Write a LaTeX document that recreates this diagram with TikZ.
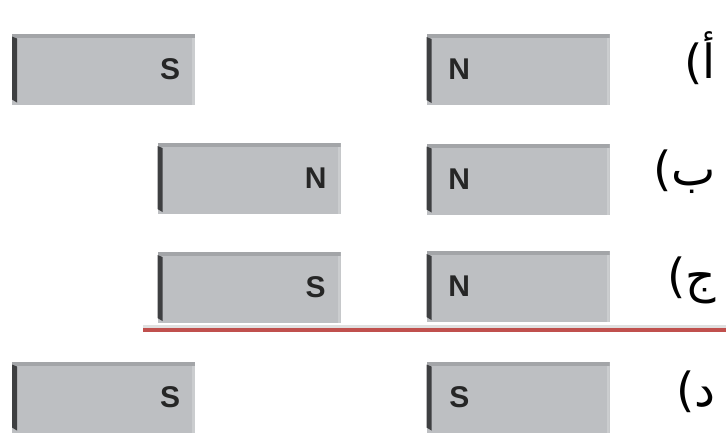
\documentclass[tikz,border=0pt]{standalone}
\usepackage{fontspec}
\setmainfont{Liberation Sans}
\newfontfamily\arabicfont[Script=Arabic]{DejaVu Sans}
\TeXXeTstate=1
\definecolor{magface}{HTML}{BDBFC2}
\definecolor{magtop}{HTML}{A3A5A8}
\definecolor{magleft}{HTML}{3E3F41}
\definecolor{magright}{HTML}{CBCDCF}
\definecolor{redline}{HTML}{C0504D}
\definecolor{pole}{HTML}{262626}
\tikzset{
  magnet/.style={rectangle, minimum width=183pt, minimum height=71pt, inner sep=0pt,
    fill=magface,
    path picture={
      \fill[magtop] (path picture bounding box.north west) rectangle ([yshift=-4pt]path picture bounding box.north east);
      \fill[magright] ([xshift=-3pt,yshift=-4pt]path picture bounding box.north east) rectangle (path picture bounding box.south east);
      \fill[magleft] ([yshift=-3pt]path picture bounding box.north west) -- ([xshift=5pt,yshift=-5pt]path picture bounding box.north west) -- ([xshift=5pt,yshift=2pt]path picture bounding box.south west) -- ([yshift=5pt]path picture bounding box.south west) -- cycle;
    }},
  polelabel/.style={font=\bfseries\fontsize{30}{30}\selectfont, text=pole, inner sep=0pt},
  arlabel/.style={font=\arabicfont\fontsize{47}{47}\selectfont, text=black, inner sep=0pt, anchor=east}
}
\begin{document}
\begin{tikzpicture}[x=1pt,y=-1pt]
\useasboundingbox (0,0) rectangle (726,439);
% row a
\node[magnet] (aL) at (103.5,69) {};
\node[magnet] (aR) at (518,69.5) {};
\node[polelabel] (aLt) at ([xshift=-25pt]aL.east) {S};
\node[polelabel] (aRt) at ([xshift=33pt]aR.west) {N};
\node[arlabel] (aLab) at (716,58) {\beginR أ)\endR};
% row b
\node[magnet] (bL) at (249,178.5) {};
\node[magnet] (bR) at (518,179) {};
\node[polelabel] (bLt) at ([xshift=-25pt]bL.east) {N};
\node[polelabel] (bRt) at ([xshift=33pt]bR.west) {N};
\node[arlabel] (bLab) at (716,172) {\beginR ب)\endR};
% row c
\node[magnet] (cL) at (249,287.5) {};
\node[magnet] (cR) at (518,286.5) {};
\node[polelabel] (cLt) at ([xshift=-25pt]cL.east) {S};
\node[polelabel] (cRt) at ([xshift=33pt]cR.west) {N};
\node[arlabel] (cLab) at (716,280) {\beginR ج)\endR};
% red line
\coordinate (rA) at (143,330);
\coordinate (rB) at (726,330);
\draw[line width=5pt, black!12] ([yshift=3pt]rA) -- ([yshift=3pt]rB);
\draw[line width=4pt, redline] (rA) -- (rB);
% row d
\node[magnet] (dL) at (103.5,397) {};
\node[magnet] (dR) at (518,397) {};
\node[polelabel] (dLt) at ([xshift=-25pt]dL.east) {S};
\node[polelabel] (dRt) at ([xshift=33pt]dR.west) {S};
\node[arlabel] (dLab) at (716,392) {\beginR د)\endR};
\end{tikzpicture}
\end{document}
